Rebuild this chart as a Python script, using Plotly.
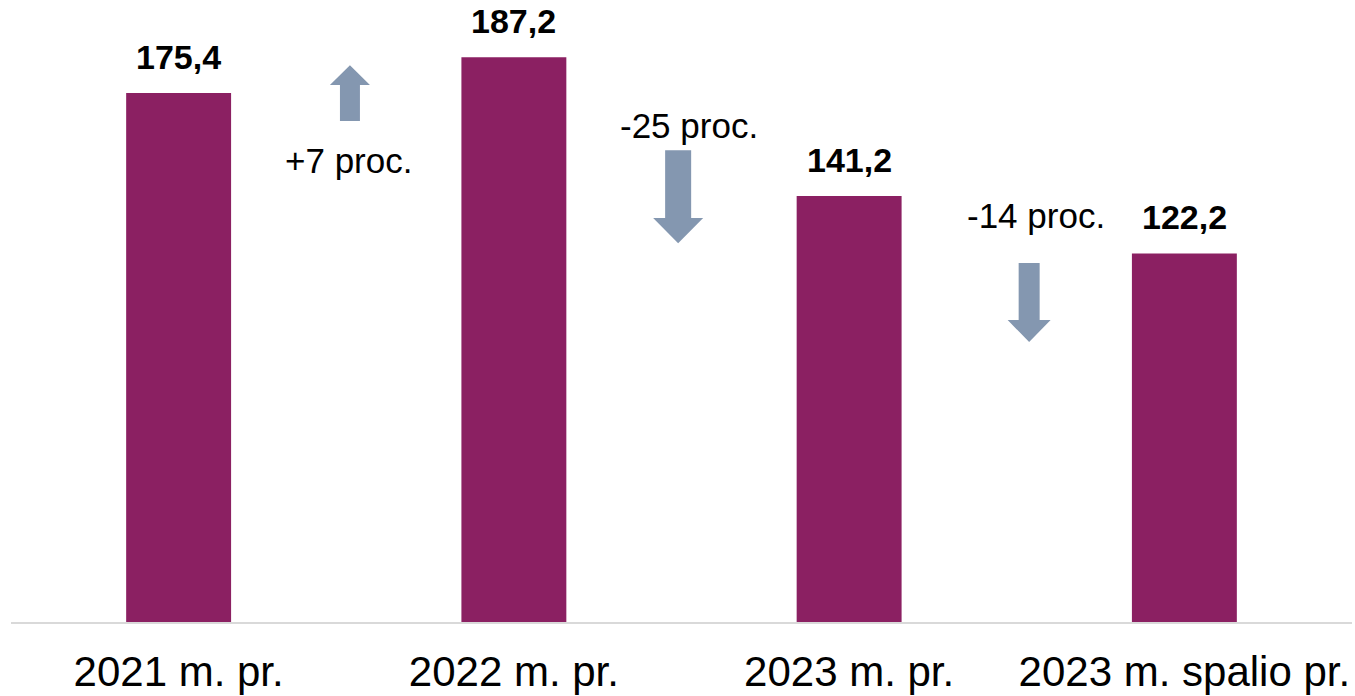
import plotly.graph_objects as go

categories = ["2021 m. pr.", "2022 m. pr.", "2023 m. pr.", "2023 m. spalio pr."]
values = [175.4, 187.2, 141.2, 122.2]
value_labels = ["175,4", "187,2", "141,2", "122,2"]
change_labels = ["+7 proc.", "-25 proc.", "-14 proc."]

BAR = "#8B2062"
ARROW = "#8497B0"
FONT = "Liberation Sans, Arial, sans-serif"

xs = list(range(len(categories)))

fig = go.Figure()
fig.add_trace(go.Bar(x=xs, y=values, width=0.313, marker=dict(color=BAR, line=dict(width=0)),
                     hoverinfo="skip"))

# value labels above bars
for x, v, t in zip(xs, values, value_labels):
    fig.add_annotation(x=x, y=v, text="<b>%s</b>" % t, showarrow=False, yanchor="bottom",
                       yshift=15, font=dict(size=34, color="black", family=FONT))

# arrows (decorative block arrows between bars)
arrow_geom = [
    # x center, tail y, head-base y, tip y, shaft half-w, head half-w
    (0.511, 166.1, 178.0, 184.6, 0.0298, 0.0597),
    (1.490, 156.4, 133.9, 125.6, 0.0388, 0.0746),
    (2.537, 119.0, 100.1, 92.8, 0.0313, 0.0641),
]
for (cx, ty, hb, tip, sw, hw) in arrow_geom:
    path = (f"M {cx-sw},{ty} L {cx+sw},{ty} L {cx+sw},{hb} L {cx+hw},{hb} "
            f"L {cx},{tip} L {cx-hw},{hb} L {cx-sw},{hb} Z")
    fig.add_shape(type="path", path=path, xref="x", yref="y", fillcolor=ARROW,
                  line=dict(width=0))

text_pos = [(0.508, 153.1), (1.522, 164.7), (2.557, 134.6)]
for (tx, ty), t in zip(text_pos, change_labels):
    fig.add_annotation(x=tx, y=ty, text=t, showarrow=False, xanchor="center", yanchor="middle",
                       font=dict(size=35, color="black", family=FONT))

fig.update_layout(
    width=1355, height=696,
    margin=dict(l=11, r=3, t=0, b=74),
    paper_bgcolor="white", plot_bgcolor="white",
    showlegend=False,
    font=dict(family=FONT, color="black"),
    xaxis=dict(range=[-0.5, 3.5], tickmode="array", tickvals=xs, ticktext=categories,
               showgrid=False, zeroline=False, showline=True, linecolor="#D9D9D9", linewidth=2,
               ticks="", tickfont=dict(size=42, color="black", family=FONT), ticklabelstandoff=12),
    yaxis=dict(range=[0, 206.2], visible=False, showgrid=False, zeroline=False),
)

fig.write_html("out.html", config={"displayModeBar": False},
               post_script="document.body.style.margin='0';")
